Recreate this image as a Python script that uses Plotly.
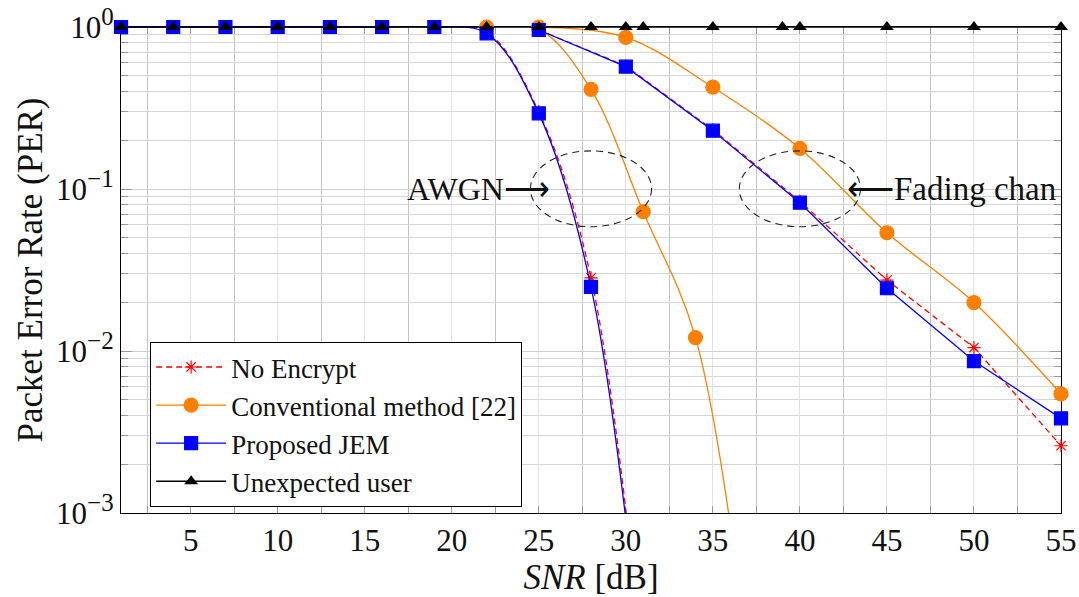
import plotly.graph_objects as go

# ---- data -------------------------------------------------------------
# AWGN channel
snr_awgn_noenc = [1, 4, 7, 10, 13, 16, 19, 22, 25, 28, 31]
per_awgn_noenc = [1, 1, 1, 1, 1, 1, 1, 0.93, 0.30, 0.0283, 1.1e-4]

snr_awgn_conv = [22, 25, 28, 31, 34, 37]
per_awgn_conv = [1.0, 0.97, 0.412, 0.0724, 0.0121, 1.3e-4]

snr_awgn_jem = [1, 4, 7, 10, 13, 16, 19, 22, 25, 28, 31]
per_awgn_jem = [1, 1, 1, 1, 1, 1, 1, 0.914, 0.293, 0.0249, 1.0e-4]

# Fading channel
snr_fad = [25, 30, 35, 40, 45, 50, 55]
per_fad_noenc = [0.96, 0.575, 0.232, 0.084, 0.0274, 0.0105, 0.0026]
per_fad_conv = [1.0, 0.864, 0.425, 0.178, 0.0537, 0.0199, 0.00543]
per_fad_jem = [0.958, 0.569, 0.229, 0.0823, 0.0244, 0.00867, 0.00384]

# Unexpected user
snr_unexp = [1, 4, 7, 10, 13, 16, 19, 22, 25, 28, 30, 31, 35, 39, 40, 45, 50, 55]
per_unexp = [1, 1, 1, 1, 1, 1, 1, 1, 1, 1, 1, 1, 1, 1, 1, 1, 1, 1]

y_ticks = [1e-3, 1e-2, 1e-1, 1]
y_exponents = ["\u22123", "\u22122", "\u22121", "0"]
PER_MIN = 1e-3

FONT = "Liberation Serif"
FS = 31
RED, ORANGE, BLUE, BLACK = "#ff0000", "#ff8000", "#0000ff", "#000000"

y_ticktext = ["10<sup><span style='font-size:25px'>%s</span></sup>" % e for e in y_exponents]

series = [
    dict(name="No Encrypt", color=RED, dash="6px,4px", symbol="asterisk-open", size=11,
         awgn=(snr_awgn_noenc, per_awgn_noenc), fad=per_fad_noenc, fad_shape="linear"),
    dict(name="Conventional method [22]", color=ORANGE, dash="solid", symbol="circle", size=14,
         awgn=(snr_awgn_conv, per_awgn_conv), fad=per_fad_conv, fad_shape="spline"),
    dict(name="Proposed JEM", color=BLUE, dash="solid", symbol="square", size=13,
         awgn=(snr_awgn_jem, per_awgn_jem), fad=per_fad_jem, fad_shape="linear"),
]

fig = go.Figure()

for s in series:
    mk = dict(symbol=s["symbol"], size=s["size"], color=s["color"],
              line=dict(color=s["color"], width=1.2))
    ln = dict(color=s["color"], width=1.3, dash=s["dash"])
    # fading curve (carries the legend entry)
    fig.add_trace(go.Scatter(x=snr_fad, y=s["fad"], mode="lines+markers", name=s["name"],
                             line=dict(**ln, shape=s["fad_shape"]), marker=mk,
                             cliponaxis=False, legendgroup=s["name"]))
    # AWGN curve: line is clipped at the axis, markers only where inside the range
    xs, ys = s["awgn"]
    fig.add_trace(go.Scatter(x=xs, y=ys, mode="lines", showlegend=False,
                             line=dict(**ln, shape="spline", smoothing=1.0),
                             legendgroup=s["name"], hoverinfo="skip"))
    xin = [x for x, y in zip(xs, ys) if y >= PER_MIN]
    yin = [y for y in ys if y >= PER_MIN]
    fig.add_trace(go.Scatter(x=xin, y=yin, mode="markers", showlegend=False,
                             marker=mk, cliponaxis=False, legendgroup=s["name"]))

fig.add_trace(go.Scatter(x=snr_unexp, y=per_unexp, mode="lines+markers", name="Unexpected user",
                         line=dict(color=BLACK, width=1.6),
                         marker=dict(symbol="triangle-up", size=12, color=BLACK),
                         cliponaxis=False))

# dashed ellipses around the two groups of curves
for xc in (28.0, 40.0):
    fig.add_shape(type="circle", xref="x", yref="y", x0=xc - 3.48, x1=xc + 3.48,
                  y0=0.0585, y1=0.172, line=dict(color="#222222", width=1.1, dash="7px,5px"),
                  layer="above")

fig.add_annotation(x=25.75, y=-1, xref="x", yref="y", text="AWGN\u27f6", showarrow=False,
                   xanchor="right", yanchor="middle", font=dict(family=FONT, size=32, color="#111"))
fig.add_annotation(x=42.6, y=-1, xref="x", yref="y", text="\u27f5Fading chan", showarrow=False,
                   xanchor="left", yanchor="middle", font=dict(family=FONT, size=33, color="#111"))

fig.update_layout(
    width=1079, height=597,
    margin=dict(l=121, r=18, t=27, b=84),
    paper_bgcolor="white", plot_bgcolor="white",
    font=dict(family=FONT, size=FS, color="#111"),
    showlegend=True,
    legend=dict(x=0.031, y=0.352, xanchor="left", yanchor="top",
                bgcolor="white", bordercolor="black", borderwidth=1,
                font=dict(family=FONT, size=27), tracegroupgap=0, itemwidth=70),
)

fig.update_xaxes(
    range=[1, 55], tick0=0, dtick=5, automargin=False,
    showline=True, linecolor="black", linewidth=1.3, mirror="ticks",
    ticks="inside", ticklen=7, tickcolor="#999999", tickwidth=1,
    showgrid=True, gridcolor="#e3e3e3", gridwidth=1,
    minor=dict(dtick=2.5, tick0=0, showgrid=True, gridcolor="#c4c4c4", gridwidth=1,
               ticks="inside", ticklen=7, tickcolor="#999999"),
    zeroline=False, layer="below traces",
    tickfont=dict(family=FONT, size=FS),
    title=dict(text="<i>SNR</i> [dB]", font=dict(family=FONT, size=35), standoff=6),
)

fig.update_yaxes(
    type="log", range=[-3, 0], automargin=False,
    tickvals=y_ticks, ticktext=y_ticktext,
    showline=True, linecolor="black", linewidth=1.3, mirror="ticks",
    ticks="inside", ticklen=11, tickcolor="#999999", tickwidth=1,
    showgrid=True, gridcolor="#cfcfcf", gridwidth=1,
    minor=dict(dtick="D1", showgrid=True, gridcolor="#d6d6d6", gridwidth=1,
               ticks="inside", ticklen=7, tickcolor="#999999"),
    zeroline=False, layer="below traces",
    tickfont=dict(family=FONT, size=FS),
    title=dict(text="Packet Error Rate (PER)", font=dict(family=FONT, size=35), standoff=2),
)

fig.write_html("out.html")
